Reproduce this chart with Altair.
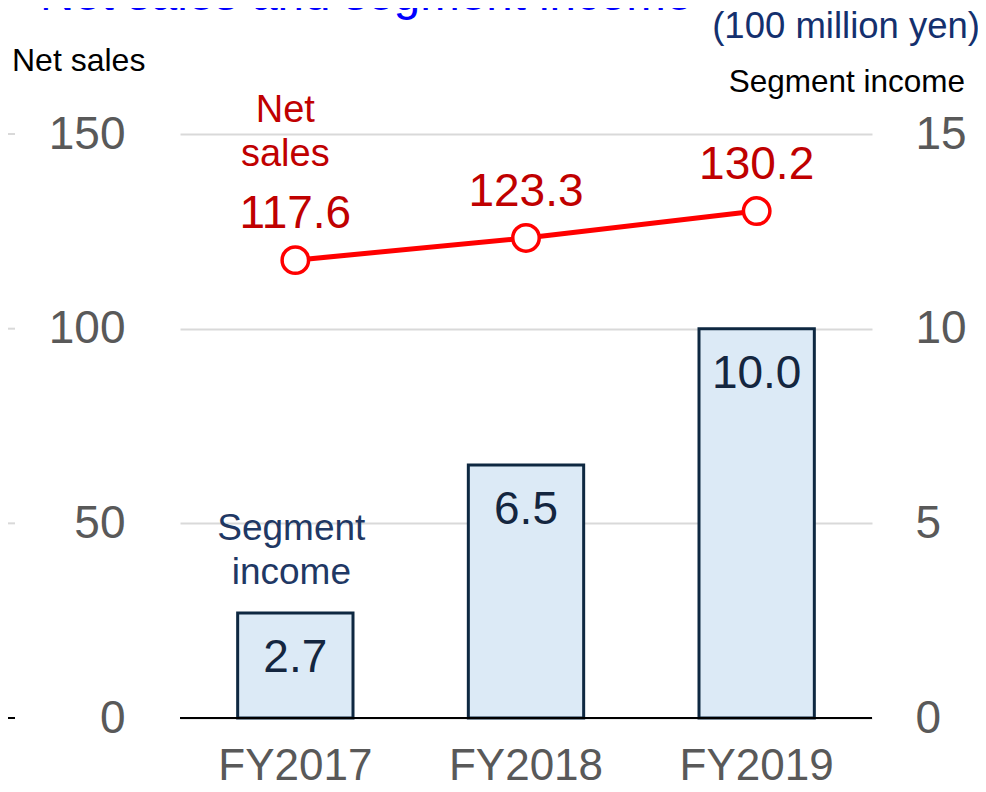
import altair as alt
import pandas as pd

# ---- data ----
years = ["FY2017", "FY2018", "FY2019"]
net_sales = [117.6, 123.3, 130.2]
segment_income = [2.7, 6.5, 10.0]
net_sales_labels = ["117.6", "123.3", "130.2"]
income_labels = ["2.7", "6.5", "10.0"]
left_ticks = [0, 50, 100, 150]
right_ticks = [0, 5, 10, 15]

df = pd.DataFrame({
    "year": years,
    "sales": net_sales,
    "income": segment_income,
    "sales_label": net_sales_labels,
    "income_label": income_labels,
})

FONT = "Liberation Sans"
GRAY = "#595959"
RED_TXT = "#C00000"
NAVY = "#14263F"

x_enc = alt.X(
    "year:N", sort=years,
    scale=alt.Scale(paddingInner=0.5, paddingOuter=0.25),
    axis=alt.Axis(title=None, labelFontSize=44, labelColor=GRAY, labelFont=FONT,
                  labelPadding=26, ticks=False, domain=False, labelAngle=0),
)

left_scale = alt.Scale(domain=[0, 150], nice=False)
left_axis = alt.Axis(orient="left", values=left_ticks, title=None, grid=True,
                     gridColor="#D9D9D9", gridWidth=2, ticks=False, domain=False,
                     labelFontSize=46, labelColor=GRAY, labelFont=FONT, labelPadding=55)

right_scale = alt.Scale(domain=[0, 15], nice=False)
right_axis = alt.Axis(orient="right", values=right_ticks, title=None, grid=False,
                      ticks=False, domain=False, labelFontSize=46, labelColor=GRAY,
                      labelFont=FONT, labelPadding=43)

base = alt.Chart(df)

# ---- right-scale layer: bars ----
bars = base.mark_bar(fill="#DCEAF6", stroke="#0E2841", strokeWidth=3).encode(
    x=x_enc,
    y=alt.Y("income:Q", scale=right_scale, axis=right_axis),
)
bar_labels = base.mark_text(font=FONT, fontSize=46, color=NAVY, baseline="alphabetic", dy=59).encode(
    x=x_enc,
    y=alt.Y("income:Q", scale=right_scale, axis=right_axis),
    text="income_label:N",
)
seg_df = pd.DataFrame({"year": ["FY2017"], "t": ["Segment income"]})
seg_note = alt.Chart(seg_df).mark_text(font=FONT, fontSize=37, color="#1F3864",
                                       baseline="alphabetic", lineBreak=" ",
                                       lineHeight=44, dx=-4).encode(
    x=x_enc,
    y=alt.value(406),
    text="t:N",
)
right_layer = alt.layer(bars, bar_labels, seg_note)

# ---- left-scale layer: zero rule, line, points, labels ----
zero_df = pd.DataFrame({"z": [0]})
zero_rule = alt.Chart(zero_df).mark_rule(color="black", strokeWidth=2).encode(
    y=alt.Y("z:Q", scale=left_scale, axis=left_axis),
)
stub_df = pd.DataFrame({"t": left_ticks})
stubs = alt.Chart(stub_df).mark_rule(strokeWidth=2).encode(
    y=alt.Y("t:Q", scale=left_scale, axis=left_axis),
    x=alt.value(-180), x2=alt.value(-165),
    color=alt.condition(alt.datum.t == 0, alt.value("black"), alt.value("#D9D9D9")),
)
line = base.mark_line(color="#FF0000", strokeWidth=5).encode(
    x=x_enc,
    y=alt.Y("sales:Q", scale=left_scale, axis=left_axis),
)
points = base.mark_point(shape="circle", filled=True, fill="white", stroke="#FF0000",
                         strokeWidth=3.5, size=700, opacity=1).encode(
    x=x_enc,
    y=alt.Y("sales:Q", scale=left_scale, axis=left_axis),
)
line_labels = base.mark_text(font=FONT, fontSize=46, color=RED_TXT, baseline="alphabetic", dy=-32).encode(
    x=x_enc,
    y=alt.Y("sales:Q", scale=left_scale, axis=left_axis),
    text="sales_label:N",
)
ns_df = pd.DataFrame({"year": ["FY2017"], "t": ["Net sales"]})
ns_note = alt.Chart(ns_df).mark_text(font=FONT, fontSize=38, color=RED_TXT,
                                     baseline="alphabetic", lineBreak=" ",
                                     lineHeight=44, dx=-10).encode(
    x=x_enc,
    y=alt.value(-12.5),
    text="t:N",
)

# ---- header texts ----
def header(txt, xpos, ypos, size, color, align):
    return alt.Chart(pd.DataFrame({"t": [txt]})).mark_text(
        font=FONT, fontSize=size, color=color, align=align, baseline="alphabetic"
    ).encode(x=alt.value(xpos), y=alt.value(ypos), text="t:N")

title_txt = header("Net sales and segment income", -140, -124, 47.5, "#0000FF", "left")
left_title = header("Net sales", -168, -63, 32, "black", "left")
unit_txt = header("(100 million yen)", 800, -96, 36.5, "#14306E", "right")
right_title = header("Segment income", 785, -42, 31.5, "black", "right")

left_layer = alt.layer(zero_rule, stubs, line, points, line_labels, ns_note,
                       title_txt, left_title, unit_txt, right_title)

chart = alt.layer(right_layer, left_layer).resolve_scale(y="independent").properties(
    width=692, height=584,
    autosize=alt.AutoSizeParams(type="none"),
    padding={"left": 172, "top": 126, "right": 106, "bottom": 66},
).configure_view(stroke=None)

chart.save("out.html", embed_options={"renderer": "svg", "actions": False})
